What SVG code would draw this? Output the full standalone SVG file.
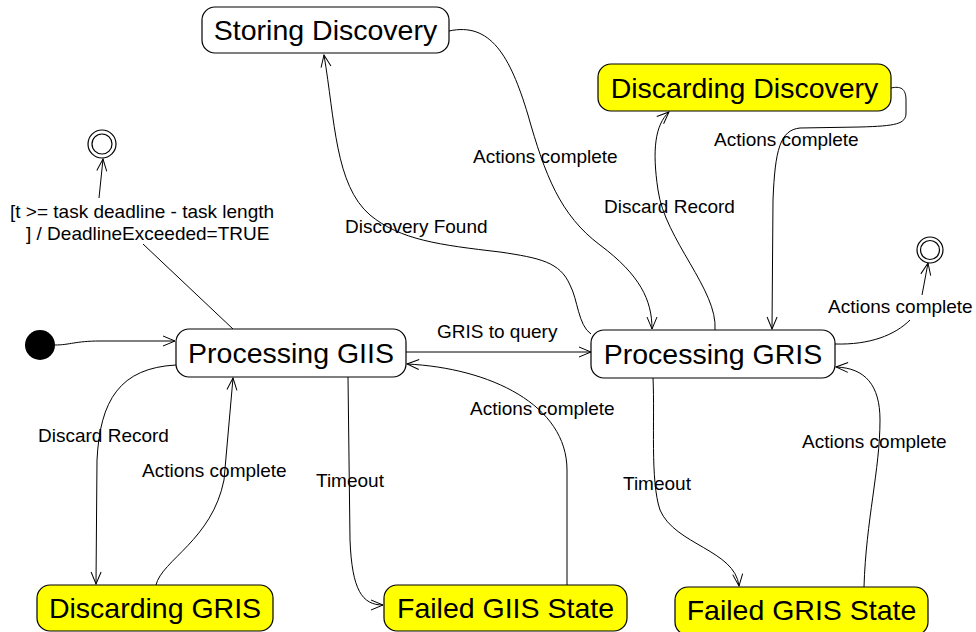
<svg xmlns="http://www.w3.org/2000/svg" width="976" height="632" viewBox="0 0 976 632">
<style>
.n{stroke:#000;stroke-width:1.2;fill:#fff}
.y{fill:#ffff00}
.t{font-family:"Liberation Sans",Arial,sans-serif;font-size:28.5px;fill:#000;text-anchor:middle}
.l{font-family:"Liberation Sans",Arial,sans-serif;font-size:19px;fill:#000}
.c{fill:none;stroke:#000;stroke-width:1;marker-end:url(#a)}
.p{fill:none;stroke:#000;stroke-width:1}
</style>
<defs>
<marker id="a" viewBox="0 0 14 12" refX="13" refY="6" markerWidth="14" markerHeight="12" markerUnits="userSpaceOnUse" orient="auto">
<path d="M1,1 L13,6 L1,11" fill="none" stroke="#000" stroke-width="1"/>
</marker>
</defs>
<rect width="976" height="632" fill="#fff"/>
<g id="connectors">
<path class="c" d="M55,345 C70,345 75,341 100,341 L175,341"/>
<path class="p" d="M233,329 L143,244"/>
<path class="c" d="M99,198 L103,159"/>
<path class="c" d="M406,352 L591,352"/>
<path class="c" d="M567,585 L567,470 C567,405 490,368 407,364"/>
<path class="c" d="M348,377 L350,540 C352,590 362,605 383,605"/>
<path class="c" d="M176,365 C120,368 100,400 97,460 L96,584"/>
<path class="c" d="M156,585 C162,560 212,540 224,480 L233,378"/>
<path class="c" d="M591,334 C578,325 578,300 570,285 C560,262 540,258 500,252 C440,245 400,240 370,215 C335,185 335,120 324,55"/>
<path class="c" d="M449,31 C490,22 510,55 528,115 C545,175 560,215 600,245 C640,275 652,300 652,329"/>
<path class="c" d="M715,330 C718,290 665,240 658,190 C652,150 655,125 669,112"/>
<path class="c" d="M891,88 C900,86 906,88 906,100 L906,113 C906,124 896,126 860,127 L800,128 C780,130 775,150 773,200 L772,329"/>
<path class="p" d="M835,344 C870,345 895,335 910,320"/>
<path class="c" d="M922,295 L928,263"/>
<path class="c" d="M864,587 C866,520 880,470 880,420 C880,385 865,368 836,367"/>
<path class="c" d="M653,378 C655,420 650,480 660,510 C675,545 735,550 739,586"/>
</g>
<g id="initial"><circle cx="40" cy="345" r="15" fill="#000"/></g>
<g id="final1"><circle cx="102" cy="144" r="14" fill="#fff" stroke="#000" stroke-width="1.2"/><circle cx="102" cy="144" r="10" fill="none" stroke="#000" stroke-width="1.2"/></g>
<g id="final2"><circle cx="930" cy="250" r="13" fill="#fff" stroke="#000" stroke-width="1.2"/><circle cx="930" cy="250" r="9.5" fill="none" stroke="#000" stroke-width="1.2"/></g>
<g id="storing-discovery"><rect class="n" x="202" y="7" width="247" height="46" rx="13"/><text class="t" x="325.5" y="40">Storing Discovery</text></g>
<g id="discarding-discovery"><rect class="n y" x="598" y="64" width="293" height="47" rx="13"/><text class="t" x="744.5" y="97.5">Discarding Discovery</text></g>
<g id="processing-giis"><rect class="n" x="176" y="329" width="230" height="48" rx="13"/><text class="t" x="291" y="363">Processing GIIS</text></g>
<g id="processing-gris"><rect class="n" x="591" y="330" width="244" height="48" rx="13"/><text class="t" x="713" y="364">Processing GRIS</text></g>
<g id="discarding-gris"><rect class="n y" x="37" y="585" width="236" height="46" rx="13"/><text class="t" x="155" y="618">Discarding GRIS</text></g>
<g id="failed-giis"><rect class="n y" x="384" y="585" width="243" height="46" rx="13"/><text class="t" x="505.5" y="618">Failed GIIS State</text></g>
<g id="failed-gris"><rect class="n y" x="675" y="587" width="253" height="48" rx="13"/><text class="t" x="801.5" y="620">Failed GRIS State</text></g>
<g id="labels">
<text class="l" x="10" y="218">[t &gt;= task deadline - task length</text>
<text class="l" x="26" y="240">] / DeadlineExceeded=TRUE</text>
<text class="l" x="345" y="233">Discovery Found</text>
<text class="l" x="473" y="163">Actions complete</text>
<text class="l" x="604" y="213">Discard Record</text>
<text class="l" x="714" y="146">Actions complete</text>
<text class="l" x="828" y="313">Actions complete</text>
<text class="l" x="437" y="338">GRIS to query</text>
<text class="l" x="470" y="415">Actions complete</text>
<text class="l" x="38" y="442">Discard Record</text>
<text class="l" x="142" y="477">Actions complete</text>
<text class="l" x="316" y="487">Timeout</text>
<text class="l" x="623" y="490">Timeout</text>
<text class="l" x="802" y="448">Actions complete</text>
</g>
</svg>
